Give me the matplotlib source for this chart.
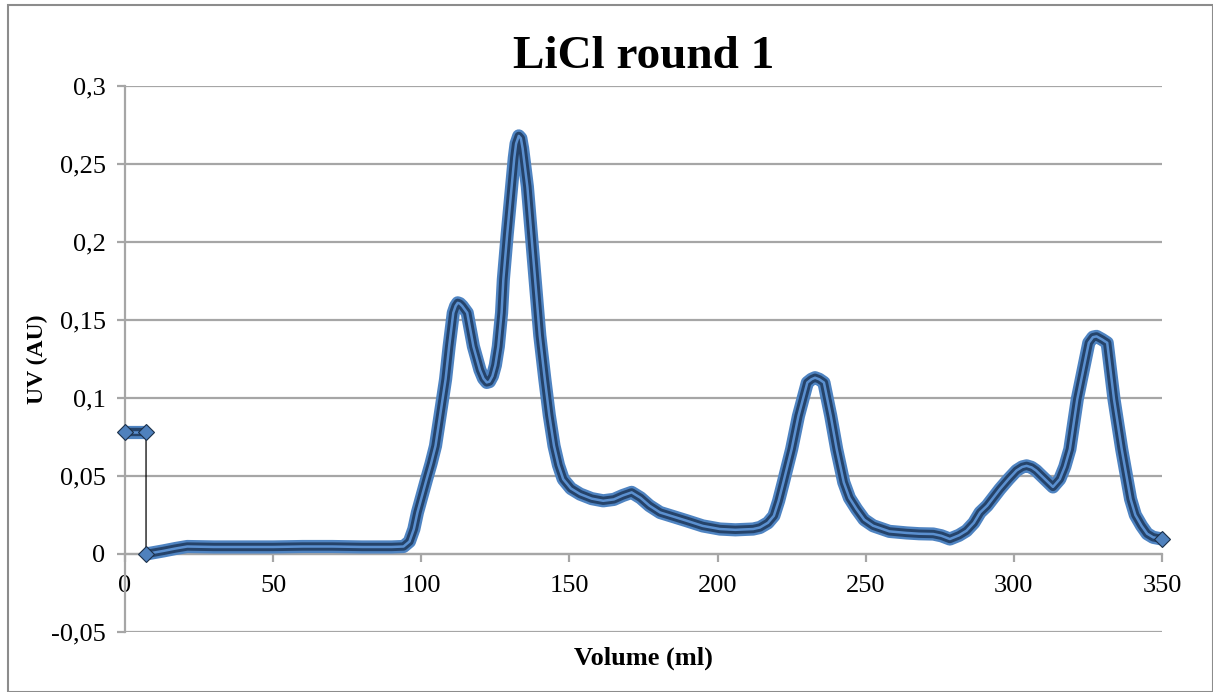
import matplotlib
matplotlib.use("Agg")
import matplotlib.pyplot as plt
from matplotlib.patches import Rectangle

# ---- data ----
vol_start = [0, 2, 4, 6, 7.1]
uv_start = [0.078, 0.078, 0.078, 0.078, 0.078]

vol_main = [7.1, 10, 13, 17, 21, 30, 40, 50, 60, 70, 80, 90, 94, 96, 97.5,
            98.7, 100.2, 101.8, 103.3, 104.8, 106.5, 108.2, 109.4, 110.8,
            111.6, 112.3, 113.0, 113.8, 115.5, 117.6, 119.8, 121.0, 122.1,
            123.0, 124.0, 125.0, 126.0, 127.1, 127.7, 129.0, 130.5, 131.4,
            132.0, 132.9, 133.6, 134.2, 135.8, 138.4, 140.0, 141.7, 143.2,
            144.8, 146.3, 147.9, 150.5, 153.6, 157.5, 161.4, 165, 168, 171,
            174, 177, 180.6, 185, 189.6, 195, 200.8, 206, 212, 214.3, 217,
            219, 220.6, 222.2, 225, 227.3, 230.3, 231.7, 232.9, 234.3, 235.9,
            238.2, 240.2, 242.6, 244.5, 246.9, 249.5, 252.5, 258, 263.8, 268,
            272.8, 275.5, 278.4, 281.5, 284, 286.5, 288.6, 291, 295.3, 298.2,
            300.9, 302.8, 304.3, 306.0, 307.5, 310.5, 313.2, 315.5, 317.2,
            318.9, 321.4, 323.7, 325.3, 326.7, 327.9, 329.8, 331.5, 333.8,
            336.4, 338.0, 339.4, 341, 343.1, 345, 347, 350]
uv_main = [0.000, 0.001, 0.002, 0.0035, 0.0048, 0.0045, 0.0045, 0.0045,
           0.0048, 0.0048, 0.0045, 0.0045, 0.0048, 0.008, 0.016, 0.0266,
           0.037, 0.048, 0.058, 0.0693, 0.0906, 0.112, 0.133, 0.1546, 0.159,
           0.161, 0.1605, 0.159, 0.1546, 0.133, 0.118, 0.1125, 0.110, 0.1105,
           0.114, 0.121, 0.133, 0.1546, 0.176, 0.205, 0.2355, 0.254, 0.263,
           0.268, 0.2665, 0.260, 0.2355, 0.176, 0.140, 0.112, 0.089, 0.0693,
           0.057, 0.048, 0.042, 0.0384, 0.0355, 0.0341, 0.035, 0.0375, 0.0395,
           0.036, 0.031, 0.0266, 0.024, 0.0213, 0.018, 0.016, 0.0155, 0.016,
           0.017, 0.020, 0.0245, 0.034, 0.0459, 0.0672, 0.0885, 0.1099, 0.112,
           0.113, 0.112, 0.1099, 0.0885, 0.0672, 0.0459, 0.036, 0.0288, 0.022,
           0.0181, 0.0145, 0.0135, 0.013, 0.0128, 0.0117, 0.0096, 0.012,
           0.0149, 0.020, 0.0266, 0.031, 0.0416, 0.048, 0.0535, 0.0558,
           0.0565, 0.0555, 0.0535, 0.048, 0.043, 0.048, 0.056, 0.0672, 0.0992,
           0.1205, 0.1354, 0.139, 0.1395, 0.1375, 0.1354, 0.0992, 0.0672,
           0.050, 0.0352, 0.025, 0.0181, 0.013, 0.0107, 0.0096]

y_ticks = [-0.05, 0, 0.05, 0.1, 0.15, 0.2, 0.25, 0.3]
y_tick_labels = ["-0,05", "0", "0,05", "0,1", "0,15", "0,2", "0,25", "0,3"]
x_ticks = [0, 50, 100, 150, 200, 250, 300, 350]
x_tick_labels = ["0", "50", "100", "150", "200", "250", "300", "350"]

title = "LiCl round 1"
xlabel = "Volume (ml)"
ylabel = "UV (AU)"

# ---- figure ----
plt.rcParams['font.family'] = ['Liberation Serif', 'DejaVu Serif']
fig = plt.figure(figsize=(12.13, 6.92), dpi=100)
ax = fig.add_axes([125 / 1213, 60 / 692, (1162 - 125) / 1213, (632 - 86) / 692])

# outer chart border
fig.patches.append(Rectangle((8 / 1213, 0), 1 - 8 / 1213 - 0.5 / 1213, 1 - 5 / 692,
                             transform=fig.transFigure, fill=False,
                             edgecolor='#8c8c8c', linewidth=1.5))

ax.set_xlim(0, 350)
ax.set_ylim(-0.05, 0.3)

grid_col = '#a6a6a6'
ax.set_yticks(y_ticks)
ax.set_yticklabels(y_tick_labels)
ax.set_xticks(x_ticks)
ax.set_xticklabels(x_tick_labels)
ax.yaxis.grid(True, color=grid_col, linewidth=1.6)
ax.set_axisbelow(True)

for s in ['top', 'right']:
    ax.spines[s].set_visible(False)
ax.spines['left'].set_color(grid_col)
ax.spines['left'].set_linewidth(1.6)
ax.spines['bottom'].set_position(('data', 0))
ax.spines['bottom'].set_color(grid_col)
ax.spines['bottom'].set_linewidth(1.6)
ax.tick_params(axis='both', colors=grid_col, labelcolor='black',
               labelsize=19, length=6, width=1.6, direction='out')
ax.tick_params(axis='y', pad=8)
ax.tick_params(axis='x', pad=9)

# thin connecting line through all points
all_v = vol_start + vol_main
all_u = uv_start + uv_main
ax.plot(all_v, all_u, color='black', linewidth=0.9, zorder=3)

# thick band styled like densely packed diamond markers
for v, u in [(vol_start, uv_start), (vol_main, uv_main)]:
    ax.plot(v, u, color='#4f84c2', linewidth=9.5, solid_capstyle='butt',
            solid_joinstyle='round', zorder=4, clip_on=False)
    ax.plot(v, u, color='#25436a', linewidth=6, solid_capstyle='butt',
            solid_joinstyle='round', zorder=5, clip_on=False)
    ax.plot(v, u, color='#5b90d0', linewidth=1.8, solid_joinstyle='round',
            zorder=6, clip_on=False)
    ax.plot([v[0], v[-1]], [u[0], u[-1]], linestyle='none', marker='D',
            markersize=8, markerfacecolor='#4f81bd', markeredgecolor='#1c3049',
            markeredgewidth=0.8, zorder=7, clip_on=False)

ax.set_title(title, fontsize=34, fontweight='bold', pad=13)
ax.set_xlabel(xlabel, fontsize=19, fontweight='bold', labelpad=0)
ax.xaxis.set_label_coords(0.5, -0.026)
ax.set_ylabel(ylabel, fontsize=17, fontweight='bold')
ax.yaxis.set_label_coords(-0.074, 0.5)

fig.savefig('out.png', dpi=100)
